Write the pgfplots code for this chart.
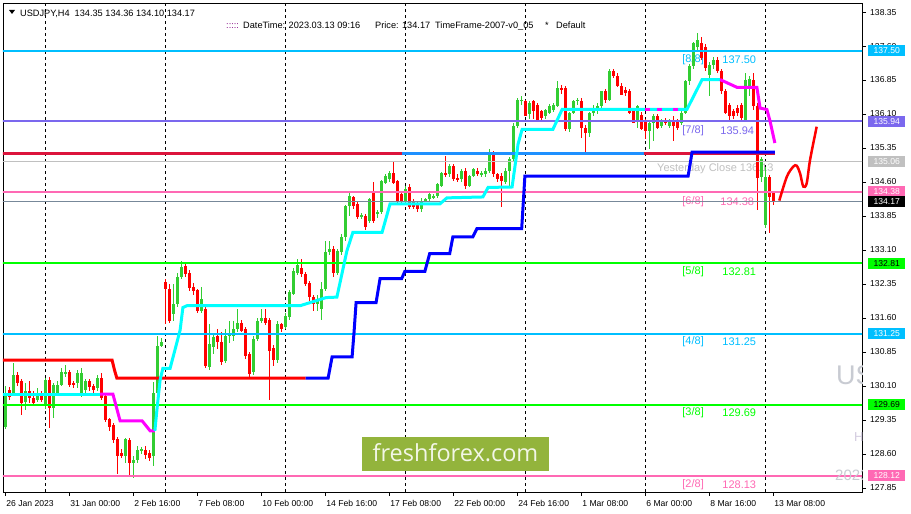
\documentclass[border=0pt]{standalone}
\usepackage{pgfplots}
\pgfplotsset{compat=1.18}
\usepackage{pgfplotstable}
\usepackage{fontspec}
\setmainfont{Liberation Sans}
\newfontfamily\logofont{Open Sans}
\definecolor{dsb}{HTML}{00BFFF}
\definecolor{msb}{HTML}{7B68EE}
\definecolor{silv}{HTML}{C0C0C0}
\definecolor{hpink}{HTML}{FF69B4}
\definecolor{lsg}{HTML}{778899}
\definecolor{limec}{HTML}{00FF00}
\definecolor{crim}{HTML}{DC143C}
\definecolor{dodg}{HTML}{1E90FF}
\definecolor{upc}{HTML}{32CD32}
\definecolor{dnc}{HTML}{FF0000}
\definecolor{cyanc}{HTML}{00FFFF}
\definecolor{magc}{HTML}{FF00FF}
\definecolor{bluec}{HTML}{0000FF}
\definecolor{logo}{HTML}{93B43C}
\definecolor{logotext}{HTML}{F2F6E6}
\definecolor{wm}{HTML}{C8CBD2}
\definecolor{wm2}{HTML}{D4CCE0}
\definecolor{dots}{HTML}{800080}

\pgfplotstableread{
i o h l c
0 129.20 130.10 129.15 129.93
1 130.01 130.08 129.80 129.85
2 129.90 130.61 129.88 130.34
3 130.34 130.40 130.10 130.16
4 130.20 130.25 129.46 129.72
5 129.75 130.16 129.57 129.98
6 129.98 130.20 129.72 129.83
7 129.83 129.98 129.65 129.72
8 129.80 130.05 129.75 129.94
9 129.90 129.98 129.75 129.80
10 129.65 130.28 129.60 130.23
11 130.23 130.30 129.18 129.61
12 129.61 130.16 129.39 130.12
13 129.94 130.20 129.90 130.12
14 130.12 130.49 130.10 130.41
15 130.38 130.56 130.30 130.41
16 130.41 130.46 130.08 130.12
17 130.17 130.22 130.05 130.12
18 130.16 130.45 130.05 130.38
19 129.95 130.49 129.85 130.39
20 130.01 130.25 129.95 130.20
21 130.20 130.25 130.00 130.07
22 130.09 130.15 129.95 130.01
23 130.05 130.35 130.00 130.28
24 130.28 130.39 129.78 129.83
25 129.87 129.90 129.30 129.35
26 129.37 129.40 129.10 129.19
27 129.24 129.28 128.85 128.91
28 128.93 128.98 128.15 128.55
29 128.62 128.70 128.50 128.56
30 128.55 128.96 128.40 128.93
31 128.91 128.95 128.10 128.40
32 128.40 128.55 128.07 128.47
33 128.47 128.78 128.40 128.69
34 128.66 128.75 128.60 128.71
35 128.69 128.78 128.50 128.58
36 128.62 128.68 128.45 128.51
37 128.55 130.19 128.33 129.95
38 129.95 131.20 129.85 130.99
39 130.99 131.15 130.95 131.08
40 132.40 132.45 131.47 132.24
41 132.24 132.35 131.50 131.54
42 131.69 132.35 131.54 131.91
43 131.91 132.60 131.85 132.51
44 132.51 132.86 132.45 132.73
45 132.75 132.80 132.50 132.58
46 132.60 132.65 132.20 132.26
47 132.28 132.38 132.10 132.20
48 132.22 132.25 131.72 131.76
49 131.76 132.28 131.72 132.02
50 131.80 131.85 130.50 130.55
51 130.52 131.47 130.45 131.03
52 130.97 131.25 130.80 131.17
53 131.21 131.35 130.92 131.07
54 131.07 131.30 130.57 130.63
55 130.66 131.35 130.60 131.21
56 131.21 131.54 131.05 131.24
57 131.21 131.54 131.10 131.36
58 131.36 131.80 131.30 131.50
59 131.50 131.55 131.28 131.32
60 131.36 131.40 130.70 130.77
61 130.81 130.85 130.30 130.37
62 130.40 131.20 130.35 131.14
63 131.14 131.60 131.10 131.54
64 131.54 131.80 131.50 131.60
65 131.60 131.80 131.45 131.50
66 131.55 131.60 129.80 130.88
67 130.93 131.00 130.55 130.67
68 130.67 131.54 130.60 131.47
69 131.47 131.50 131.30 131.36
70 131.40 131.70 131.35 131.65
71 131.62 132.22 131.55 132.17
72 132.13 132.70 132.10 132.64
73 132.60 132.90 132.55 132.77
74 132.70 132.90 132.50 132.56
75 132.57 132.62 132.30 132.35
76 132.38 132.42 131.98 132.06
77 132.06 132.10 131.76 131.91
78 131.91 132.10 131.76 131.98
79 131.80 132.40 131.55 132.24
80 132.24 133.30 132.20 133.05
81 133.05 133.30 132.98 133.12
82 133.12 133.20 132.50 132.60
83 132.60 133.12 132.55 133.08
84 133.05 133.45 133.00 133.38
85 133.38 134.10 133.30 134.07
86 134.07 134.35 133.85 134.29
87 134.26 134.30 134.00 134.07
88 134.11 134.15 133.78 133.82
89 133.85 133.92 133.78 133.86
90 133.85 133.90 133.55 133.60
91 133.74 134.25 133.70 134.22
92 134.40 134.60 133.70 133.74
93 133.89 133.98 133.80 133.93
94 133.93 134.65 133.90 134.62
95 134.59 134.78 134.55 134.73
96 134.66 134.85 134.60 134.80
97 134.80 135.06 134.55 134.59
98 134.62 134.65 134.10 134.18
99 134.33 134.40 134.10 134.18
100 134.18 134.51 134.10 134.44
101 134.48 134.55 134.00 134.04
102 134.18 134.22 134.00 134.04
103 134.11 134.15 133.93 134.00
104 134.00 134.25 133.95 134.18
105 134.18 134.25 134.15 134.22
106 134.22 134.38 134.18 134.33
107 134.26 134.33 134.22 134.29
108 134.29 134.58 134.25 134.55
109 134.51 134.82 134.48 134.80
110 134.80 135.17 134.70 134.77
111 134.77 135.00 134.72 134.95
112 134.95 135.00 134.62 134.66
113 134.69 134.78 134.60 134.66
114 134.66 134.88 134.60 134.84
115 134.84 134.90 134.45 134.51
116 134.51 134.75 134.48 134.73
117 134.73 134.92 134.70 134.88
118 134.84 134.90 134.74 134.77
119 134.77 134.85 134.70 134.80
120 134.77 134.90 134.72 134.84
121 134.84 135.32 134.80 135.24
122 135.24 135.28 134.70 134.77
123 134.77 134.80 134.60 134.66
124 134.73 134.80 134.04 134.62
125 134.60 134.90 134.55 134.85
126 134.85 135.15 134.50 135.10
127 135.10 135.90 135.05 135.83
128 135.83 136.46 135.80 136.42
129 136.38 136.50 136.30 136.42
130 136.38 136.40 136.05 136.05
131 136.09 136.38 136.00 136.35
132 136.38 136.40 135.98 136.16
133 136.30 136.35 135.94 135.98
134 136.16 136.20 135.98 136.02
135 136.05 136.22 135.98 136.20
136 136.13 136.32 136.10 136.27
137 136.20 136.35 136.15 136.30
138 136.27 136.82 136.25 136.68
139 136.68 136.75 136.55 136.64
140 136.68 136.72 135.72 135.76
141 135.76 136.15 135.70 136.13
142 136.13 136.40 136.10 136.38
143 136.38 136.45 136.30 136.42
144 136.38 136.45 135.58 135.80
145 135.80 135.85 135.21 135.69
146 135.69 136.15 135.60 136.13
147 136.13 136.30 136.05 136.24
148 136.20 136.35 136.10 136.27
149 136.27 136.62 136.20 136.60
150 136.60 136.65 136.35 136.42
151 136.42 137.10 136.38 137.04
152 137.04 137.10 136.90 136.95
153 136.95 137.00 136.70 136.72
154 136.72 136.78 136.52 136.53
155 136.64 136.70 136.50 136.57
156 136.60 136.65 136.10 136.13
157 136.16 136.20 135.90 135.91
158 135.94 136.30 135.80 136.27
159 136.09 136.15 135.75 135.76
160 135.94 136.00 135.54 135.72
161 135.72 135.92 135.32 135.91
162 135.91 136.10 135.50 136.05
163 136.05 136.10 135.78 135.80
164 135.83 136.00 135.80 135.94
165 135.98 136.02 135.85 135.91
166 135.83 136.00 135.80 135.98
167 135.98 136.05 135.50 135.83
168 135.94 136.00 135.75 135.80
169 135.91 136.18 135.85 136.13
170 136.13 136.85 136.10 136.82
171 136.82 137.20 136.75 137.15
172 137.15 137.70 137.10 137.66
173 137.59 137.88 137.50 137.74
174 137.66 137.80 137.30 137.33
175 137.59 137.65 137.05 137.11
176 136.97 137.25 136.49 137.19
177 137.19 137.35 137.10 137.30
178 137.30 137.35 137.00 137.04
179 137.04 137.10 136.55 136.60
180 136.60 136.65 136.10 136.13
181 136.30 136.35 135.94 136.05
182 136.16 136.20 136.00 136.05
183 136.23 136.30 136.05 136.12
184 136.30 136.35 135.95 136.01
185 135.98 137.00 135.92 136.85
186 136.70 136.95 136.50 136.88
187 136.85 137.01 136.20 136.28
188 136.28 136.35 133.98 134.70
189 134.70 135.15 134.60 135.10
190 133.65 134.94 133.58 134.71
191 134.71 134.75 133.48 134.27
192 134.35 134.36 134.10 134.17
}\ohlc

\begin{document}
\begin{tikzpicture}
\useasboundingbox (0pt,0pt) rectangle (911pt,514pt);
\fill[white] (0pt,0pt) rectangle (911pt,514pt);
\begin{axis}[
  name=ax, at={(3pt,22pt)}, anchor=south west,
  scale only axis, width=859pt, height=489pt,
  xmin=-0.675, xmax=214.08, ymin=127.76, ymax=138.55,
  axis line style={black, line width=0.8pt},
  tick align=outside, major tick length=4pt,
  tick style={black, line width=0.6pt},
  xtick pos=bottom, ytick pos=right, yticklabel pos=right,
  xtick={0,16,32,48,64,80,96,112,128,144,160,176,192},
  xticklabels={26 Jan 2023,31 Jan 00:00,2 Feb 16:00,7 Feb 08:00,10 Feb 00:00,14 Feb 16:00,17 Feb 08:00,22 Feb 00:00,24 Feb 16:00,1 Mar 08:00,6 Mar 00:00,8 Mar 16:00,13 Mar 08:00},
  ytick={127.85,128.60,129.35,130.10,130.85,131.60,132.35,133.10,133.85,134.60,135.35,136.10,136.85,137.60,138.35},
  yticklabels={127.85,128.60,129.35,130.10,130.85,131.60,132.35,133.10,133.85,134.60,135.35,136.10,136.85,137.60,138.35},
  tick label style={font=\fontsize{8.6}{10}\selectfont, black},
  xticklabel style={anchor=north west, inner sep=0pt, xshift=0.5pt, yshift=-4pt},
  yticklabel style={anchor=west, inner sep=0pt, xshift=4pt},
  extra x ticks={10,40,70,100,130,160,190},
  extra x tick labels={},
  extra x tick style={grid=major, major tick length=0pt,
     major grid style={black, line width=0.7pt, dash pattern=on 3pt off 3pt}},
  clip=true,
  candle/.style={draw=none, mark=none, forget plot,
     error bars/y dir=both, error bars/y explicit, error bars/error mark=none},
]
% level labels
\node[anchor=west, text=dsb, font=\fontsize{11}{12}\selectfont] at (axis cs:168.3,137.29) {[8/8]};
\node[anchor=west, text=dsb, font=\fontsize{11}{12}\selectfont] at (axis cs:178.3,137.29) {137.50};
\node[anchor=west, text=msb, font=\fontsize{11}{12}\selectfont] at (axis cs:168.3,135.74) {[7/8]};
\node[anchor=west, text=msb, font=\fontsize{11}{12}\selectfont] at (axis cs:177.8,135.74) {135.94};
\node[anchor=west, text=silv, font=\fontsize{11}{12}\selectfont] at (axis cs:162.0,134.90) {Yesterday Close 136.13};
\node[anchor=west, text=hpink, font=\fontsize{11}{12}\selectfont] at (axis cs:168.3,134.17) {[6/8]};
\node[anchor=west, text=hpink, font=\fontsize{11}{12}\selectfont] at (axis cs:177.8,134.17) {134.38};
\node[anchor=west, text=limec, font=\fontsize{11}{12}\selectfont] at (axis cs:168.3,132.63) {[5/8]};
\node[anchor=west, text=limec, font=\fontsize{11}{12}\selectfont] at (axis cs:178.3,132.63) {132.81};
\node[anchor=west, text=dsb, font=\fontsize{11}{12}\selectfont] at (axis cs:168.3,131.07) {[4/8]};
\node[anchor=west, text=dsb, font=\fontsize{11}{12}\selectfont] at (axis cs:178.3,131.07) {131.25};
\node[anchor=west, text=limec, font=\fontsize{11}{12}\selectfont] at (axis cs:168.3,129.51) {[3/8]};
\node[anchor=west, text=limec, font=\fontsize{11}{12}\selectfont] at (axis cs:178.3,129.51) {129.69};
\node[anchor=west, text=hpink, font=\fontsize{11}{12}\selectfont] at (axis cs:168.3,127.93) {[2/8]};
\node[anchor=west, text=hpink, font=\fontsize{11}{12}\selectfont] at (axis cs:178.3,127.93) {128.13};

% candles: wicks
\addplot[candle, restrict expr to domain={\thisrow{c}-\thisrow{o}}{0:100},
  error bars/error bar style={line width=1pt, draw=upc}]
  table[x=i, y expr={(\thisrow{h}+\thisrow{l})/2}, y error expr={(\thisrow{h}-\thisrow{l})/2}] {\ohlc};
\addplot[candle, restrict expr to domain={\thisrow{c}-\thisrow{o}}{-100:-0.0001},
  error bars/error bar style={line width=1pt, draw=dnc}]
  table[x=i, y expr={(\thisrow{h}+\thisrow{l})/2}, y error expr={(\thisrow{h}-\thisrow{l})/2}] {\ohlc};
% candles: bodies
\addplot[candle, restrict expr to domain={\thisrow{c}-\thisrow{o}}{0:100},
  error bars/error bar style={line width=3pt, line cap=butt, draw=upc}]
  table[x=i, y expr={(\thisrow{o}+\thisrow{c})/2}, y error expr={max(abs(\thisrow{c}-\thisrow{o})/2,0.012)}] {\ohlc};
\addplot[candle, restrict expr to domain={\thisrow{c}-\thisrow{o}}{-100:-0.0001},
  error bars/error bar style={line width=3pt, line cap=butt, draw=dnc}]
  table[x=i, y expr={(\thisrow{o}+\thisrow{c})/2}, y error expr={max(abs(\thisrow{c}-\thisrow{o})/2,0.012)}] {\ohlc};

% horizontal level lines
\addplot[dsb, line width=2pt] coordinates {(-1,137.50) (215,137.50)};
\addplot[msb, line width=2pt] coordinates {(-1,135.94) (215,135.94)};
\addplot[silv, line width=1pt] coordinates {(-1,135.06) (215,135.06)};
\addplot[hpink, line width=2pt] coordinates {(-1,134.38) (215,134.38)};
\addplot[lsg, line width=1pt] coordinates {(-1,134.17) (215,134.17)};
\addplot[limec, line width=2pt] coordinates {(-1,132.81) (215,132.81)};
\addplot[dsb, line width=2pt] coordinates {(-1,131.25) (215,131.25)};
\addplot[limec, line width=2pt] coordinates {(-1,129.69) (215,129.69)};
\addplot[hpink, line width=2pt] coordinates {(-1,128.12) (215,128.12)};

% weekly line
\addplot[crim, line width=3pt] coordinates {(-1,135.22) (99.2,135.22)};
\addplot[dodg, line width=3pt] coordinates {(99.2,135.22) (159.5,135.22)};
\addplot[crim, line width=3pt] coordinates {(159.5,135.22) (192.3,135.22)};

% step line
\addplot[dnc, line width=3pt] coordinates {(-1,130.67) (26.6,130.67) (27.2,130.45) (27.8,130.27) (75,130.27)};
\addplot[bluec, line width=3pt] coordinates {(75,130.27) (80.6,130.27) (81.6,130.74) (86.6,130.74) (87.1,131.30) (87.6,131.94) (92.6,131.94) (93.6,132.47) (99,132.47) (99.8,132.63) (104.8,132.63) (106,133.02) (111,133.02) (111.8,133.39) (116.8,133.39) (117.8,133.57) (129,133.57) (129.8,134.73) (170.6,134.73) (171.6,135.26) (192.3,135.26)};

% trend line
\addplot[cyanc, line width=3pt] coordinates {(-1,129.92) (23.6,129.92)};
\addplot[magc, line width=3pt] coordinates {(23.6,129.92) (26.8,129.92) (28.6,129.33) (34.1,129.33) (36.1,129.11) (37.3,129.11)};
\addplot[cyanc, line width=3pt] coordinates {(37.3,129.11) (37.8,129.57) (38.6,130.23) (39.3,130.49) (41.1,130.49) (42.3,130.89) (43.6,131.33) (44.3,131.83) (45.3,131.87) (73.6,131.87) (80.1,132.05) (82.8,132.06) (85.3,133.08) (86.8,133.49) (94.1,133.49) (96.1,134.12) (108.6,134.12) (110.3,134.25) (119.3,134.27) (120.6,134.48) (126.6,134.49) (128.1,135.44) (129.1,135.76) (136.8,135.76) (139.1,136.20) (170.3,136.20) (174.1,136.86) (178.6,136.86)};
\addplot[magc, line width=3pt] coordinates {(159.8,136.20) (161.1,136.20)};
\addplot[magc, line width=3pt] coordinates {(162.8,136.20) (164.1,136.20)};
\addplot[magc, line width=3pt] coordinates {(166.8,136.20) (168.1,136.20)};
\addplot[magc, line width=3pt] coordinates {(178.6,136.86) (182.8,136.69) (187.8,136.69) (188.6,136.23) (190.3,136.20) (191.1,135.94) (192.3,135.46)};

% hand-drawn forecast
\addplot[dnc, line width=2.5pt, smooth, tension=0.5] coordinates {(193.4,134.19) (195.3,134.72) (196.9,134.94) (197.75,134.96) (198.6,134.79) (199.4,134.50) (200.25,134.57) (201.1,135.09) (202.75,135.82)};

\coordinate (b1) at (axis cs:214.08,137.50);
\coordinate (b2) at (axis cs:214.08,135.94);
\coordinate (b3) at (axis cs:214.08,135.06);
\coordinate (b4) at (axis cs:214.08,134.38);
\coordinate (b5) at (axis cs:214.08,134.17);
\coordinate (b6) at (axis cs:214.08,132.81);
\coordinate (b7) at (axis cs:214.08,131.25);
\coordinate (b8) at (axis cs:214.08,129.69);
\coordinate (b9) at (axis cs:214.08,128.12);
\end{axis}

% price boxes
\tikzset{pbox/.style={anchor=west, minimum width=37pt, minimum height=11pt, inner sep=0pt, font=\fontsize{8.6}{10}\selectfont, text=white, xshift=6pt}}
\node[pbox, fill=dsb] at (b1) {137.50};
\node[pbox, fill=msb] at (b2) {135.94};
\node[pbox, fill=silv] at (b3) {135.06};
\node[pbox, fill=hpink] at (b4) {134.38};
\node[pbox, fill=black] at (b5) {134.17};
\node[pbox, fill=limec, text=black] at (b6) {132.81};
\node[pbox, fill=dsb] at (b7) {131.25};
\node[pbox, fill=limec, text=black] at (b8) {129.69};
\node[pbox, fill=hpink] at (b9) {128.12};

% watermark (clipped by chart frame)
\begin{scope}
\clip (3pt,22pt) rectangle (862pt,511pt);
\node[anchor=base west, inner sep=0pt, text=wm, font=\fontsize{27}{27}\selectfont] at (836pt,129pt) {USDJPY};
\node[anchor=base west, inner sep=0pt, text=wm2, font=\fontsize{13}{13}\selectfont] at (854pt,72pt) {HI};
\node[anchor=base west, inner sep=0pt, text=wm, font=\fontsize{15}{15}\selectfont] at (835pt,33pt) {2023};
\end{scope}

% logo
\fill[logo] (362pt,43pt) rectangle (549pt,77pt);
\node[text=logotext, font=\logofont\fontsize{23.5}{24}\selectfont, inner sep=0pt] at (455.5pt,61pt) {freshforex.com};

% header texts
\fill[black] (9pt,504pt) -- (15pt,504pt) -- (12pt,500pt) -- cycle;
\node[anchor=base west, inner sep=0pt, font=\fontsize{9.2}{10}\selectfont] at (20pt,497pt) {USDJPY,H4\ \ 134.35 134.36 134.10 134.17};
\tikzset{htxt/.style={anchor=base west, inner sep=0pt, font=\fontsize{9.2}{10}\selectfont}}
\node[htxt, text=dots] at (226pt,485.5pt) {:::::};
\node[htxt] at (243pt,485.5pt) {DateTime: 2023.03.13 09:16};
\node[htxt] at (375pt,485.5pt) {Price: 134.17};
\node[htxt] at (435pt,485.5pt) {TimeFrame-2007-v0\_05};
\node[htxt] at (545pt,485.5pt) {*};
\node[htxt] at (556pt,485.5pt) {Default};
\end{tikzpicture}
\end{document}
